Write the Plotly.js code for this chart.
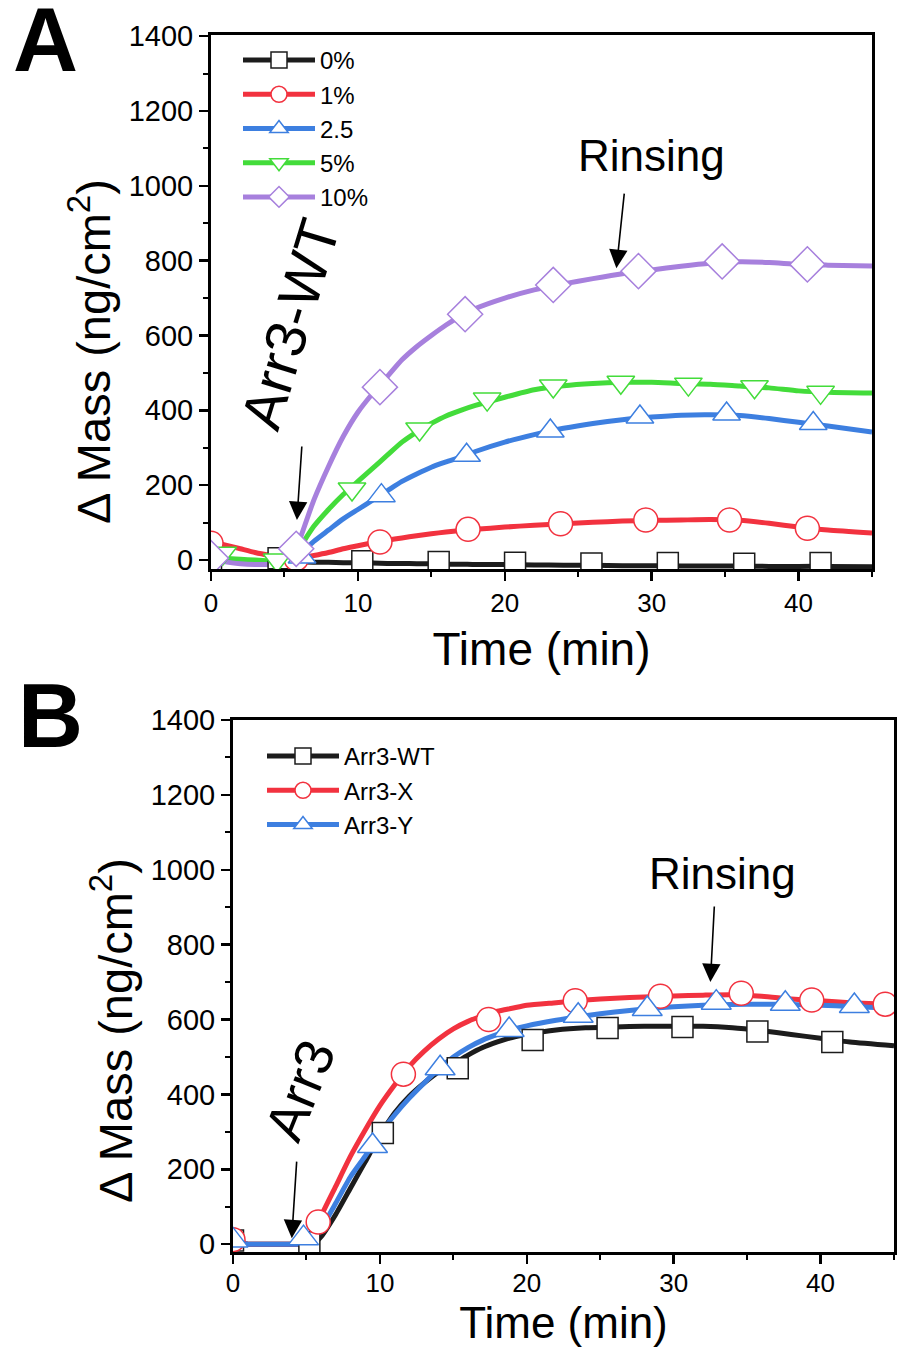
<!DOCTYPE html>
<html>
<head>
<meta charset="utf-8">
<script src="https://cdn.plot.ly/plotly-3.0.1.min.js"></script>
<style>
  html, body { margin: 0; padding: 0; background: #fff; }
  #graph { width: 900px; height: 1347px; }
</style>
</head>
<body>
<div id="graph"></div>
<script>
// ---- panel A: concentration series ----
const timeA = [0, 1, 2, 3, 4, 5, 5.5, 6, 7, 8, 9, 10, 11, 12, 13, 14, 15, 16, 17, 18, 20, 22, 24, 26, 28, 30, 32, 34, 36, 38, 40, 42, 45];
const a0   = [0, -1, -3, -4, -5, -5, -5, -5, -6, -6, -7, -8, -8, -9, -9, -10, -10, -11, -11, -12, -12, -13, -14, -14, -15, -15, -16, -16, -16, -17, -17, -17, -18];
const a1   = [50, 40, 30, 20, 12, 5, 2, 5, 12, 20, 30, 38, 46, 53, 59, 65, 70, 75, 79, 82, 88, 93, 97, 101, 104, 106, 107, 108, 106, 98, 88, 80, 72];
const a25  = [5, 0, -3, -4, -4, -3, 0, 15, 50, 80, 110, 135, 160, 185, 210, 230, 248, 262, 275, 290, 315, 335, 352, 365, 375, 382, 387, 388, 386, 378, 368, 358, 342];
const a5   = [10, 5, 2, 0, -2, -2, 0, 30, 90, 135, 175, 210, 245, 280, 315, 342, 365, 385, 400, 413, 435, 455, 466, 472, 475, 475, 472, 470, 465, 460, 452, 448, 446];
const a10  = [5, -5, -10, -12, -12, -10, 0, 50, 160, 250, 330, 395, 445, 490, 535, 570, 600, 628, 652, 672, 700, 722, 738, 752, 765, 775, 785, 793, 797, 795, 790, 788, 786];

// marker positions (panel A)
const mkA0t  = [0, 4.6, 10.3, 15.5, 20.7, 25.9, 31.1, 36.3, 41.5];
const mkA0v  = [0, 5, -3, -5, -7, -9, -8, -10, -8];
const mkA1t  = [0, 5.8, 11.5, 17.5, 23.8, 29.6, 35.3, 40.6];
const mkA1v  = [45, 3, 48, 82, 97, 107, 107, 85];
const mkA25t = [0, 6.2, 11.6, 17.4, 23.1, 29.2, 35.1, 41.0];
const mkA25v = [8, 8, 172, 280, 345, 382, 390, 365];
const mkA5t  = [0.8, 4.5, 9.6, 14.2, 18.8, 23.3, 27.9, 32.5, 37.0, 41.5];
const mkA5v  = [18, 0, 190, 350, 430, 465, 475, 470, 463, 448];
const mkA10t = [0, 5.8, 11.5, 17.3, 23.3, 29.1, 34.8, 40.6];
const mkA10v = [5, 30, 462, 657, 735, 772, 798, 790];

// ---- panel B: variants ----
const timeB = [0, 1, 2, 3, 4, 5, 5.5, 6, 7, 8, 9, 10, 11, 12, 13, 14, 15, 16, 17, 18, 19, 20, 22, 24, 26, 28, 30, 32, 34, 36, 38, 40, 42, 45];
const bWT = [15, 0, 0, 0, 0, 0, 2, 20, 80, 150, 220, 290, 350, 395, 430, 460, 482, 505, 525, 540, 552, 560, 572, 578, 580, 582, 582, 582, 578, 570, 560, 550, 540, 530];
const bX  = [15, 0, 0, 0, 0, 2, 25, 75, 155, 235, 305, 370, 425, 475, 515, 548, 575, 595, 610, 622, 630, 638, 645, 652, 657, 660, 663, 665, 666, 662, 655, 650, 645, 640];
const bY  = [15, 0, 0, 0, 0, 0, 10, 40, 110, 180, 235, 295, 345, 390, 430, 468, 500, 525, 545, 560, 573, 583, 598, 610, 620, 628, 634, 638, 640, 641, 640, 638, 635, 630];

const mkBWTt = [0, 5.2, 10.2, 15.3, 20.4, 25.5, 30.6, 35.7, 40.8];
const mkBWTv = [10, 5, 297, 470, 545, 577, 580, 568, 540];
const mkBXt  = [0, 5.8, 11.6, 17.4, 23.3, 29.1, 34.6, 39.4, 44.4];
const mkBXv  = [12, 59, 454, 600, 650, 662, 670, 652, 641];
const mkBYt  = [0, 4.8, 9.5, 14.1, 18.8, 23.5, 28.2, 32.9, 37.6, 42.3];
const mkBYv  = [10, 16, 262, 470, 572, 610, 628, 645, 642, 636];

const namesA = ['0%', '1%', '2.5', '5%', '10%'];
const namesB = ['Arr3-WT', 'Arr3-X', 'Arr3-Y'];

const FONT = 'Liberation Sans, Arial, sans-serif';
const colA = ['#1c1c1c', '#f2323f', '#3d7fe0', '#43dc3a', '#a780dd'];
const symA = ['square', 'circle', 'triangle-up', 'triangle-down', 'diamond'];
const colB = ['#1c1c1c', '#f2323f', '#3d7fe0'];
const symB = ['square', 'circle', 'triangle-up'];

const traces = [];
const linesA = [a0, a1, a25, a5, a10];
const mkA = [[mkA0t, mkA0v], [mkA1t, mkA1v], [mkA25t, mkA25v], [mkA5t, mkA5v], [mkA10t, mkA10v]];
const sizeA = [21, 24, 24, 24, 27];

linesA.forEach((ys, i) => {
    traces.push({ x: timeA, y: ys, mode: 'lines', line: { color: colA[i], width: 5, shape: 'spline', smoothing: 0.6 },
        showlegend: false, hoverinfo: 'skip', xaxis: 'x', yaxis: 'y' });
});
mkA.forEach((m, i) => {
    traces.push({ x: m[0], y: m[1], mode: 'markers',
        marker: { symbol: symA[i], size: sizeA[i], color: '#ffffff', line: { color: colA[i], width: 1.5 } },
        showlegend: false, xaxis: 'x', yaxis: 'y' });
});
namesA.forEach((n, i) => {
    traces.push({ x: [null], y: [null], name: n, mode: 'lines+markers', legend: 'legend',
        line: { color: colA[i], width: 5 },
        marker: { symbol: symA[i], size: 16, color: '#ffffff', line: { color: colA[i], width: 1.5 } },
        xaxis: 'x', yaxis: 'y' });
});

const linesB = [bWT, bX, bY];
const mkB = [[mkBWTt, mkBWTv], [mkBXt, mkBXv], [mkBYt, mkBYv]];
const sizeB = [21, 24, 26];
linesB.forEach((ys, i) => {
    traces.push({ x: timeB, y: ys, mode: 'lines', line: { color: colB[i], width: 5, shape: 'spline', smoothing: 0.6 },
        showlegend: false, hoverinfo: 'skip', xaxis: 'x2', yaxis: 'y2' });
});
mkB.forEach((m, i) => {
    traces.push({ x: m[0], y: m[1], mode: 'markers',
        marker: { symbol: symB[i], size: sizeB[i], color: '#ffffff', line: { color: colB[i], width: 1.5 } },
        showlegend: false, xaxis: 'x2', yaxis: 'y2' });
});
namesB.forEach((n, i) => {
    traces.push({ x: [null], y: [null], name: n, mode: 'lines+markers', legend: 'legend2',
        line: { color: colB[i], width: 5 },
        marker: { symbol: symB[i], size: 16, color: '#ffffff', line: { color: colB[i], width: 1.5 } },
        xaxis: 'x2', yaxis: 'y2' });
});

function xAxis(domain, anchor, standoff, labelShift, titleSize) {
    return {
        domain: domain, anchor: anchor, range: [0, 45],
        tickvals: [0, 10, 20, 30, 40], ticks: 'outside', ticklen: 9, tickwidth: 2.5, tickcolor: '#000',
        minor: { dtick: 5, tick0: 0, ticks: 'outside', ticklen: 5, tickwidth: 2, tickcolor: '#000', showgrid: false },
        showline: true, linewidth: 3, linecolor: '#000', mirror: true,
        showgrid: false, zeroline: false,
        tickfont: { family: FONT, size: 26, color: '#000' }, ticklabelstandoff: labelShift,
        title: { text: 'Time (min)', font: { family: FONT, size: titleSize, color: '#000' }, standoff: standoff }
    };
}
function yAxis(domain, anchor, range) {
    return {
        domain: domain, anchor: anchor, range: range,
        tickvals: [0, 200, 400, 600, 800, 1000, 1200, 1400], ticks: 'outside', ticklen: 9, tickwidth: 2.5, tickcolor: '#000',
        minor: { dtick: 100, tick0: 0, ticks: 'outside', ticklen: 5, tickwidth: 2, tickcolor: '#000', showgrid: false },
        showline: true, linewidth: 3, linecolor: '#000', mirror: true,
        showgrid: false, zeroline: false,
        tickfont: { family: FONT, size: 29, color: '#000' }, ticklabelstandoff: 0
    };
}

const arrow = { showarrow: true, arrowhead: 2, arrowsize: 2.3, arrowwidth: 1.6, arrowcolor: '#000', text: '', standoff: 0 };
const txt = (s, extra) => Object.assign({ text: s, showarrow: false, xanchor: 'center', yanchor: 'middle',
    font: { family: FONT, size: 44, color: '#000' } }, extra);

const layout = {
    width: 900, height: 1347,
    margin: { l: 0, r: 0, t: 0, b: 0 },
    paper_bgcolor: '#fff', plot_bgcolor: '#fff',
    font: { family: FONT, color: '#000' },
    xaxis: xAxis([211 / 900, 872 / 900], 'y', 16, 0, 46),
    yaxis: yAxis([1 - 569 / 1347, 1 - 35 / 1347], 'x', [-24, 1403]),
    xaxis2: xAxis([233 / 900, 894 / 900], 'y2', 10, -3, 44),
    yaxis2: yAxis([1 - 1252 / 1347, 1 - 720 / 1347], 'x2', [-21, 1400]),
    legend: { x: 238 / 900, y: 1 - 38 / 1347, xanchor: 'left', yanchor: 'top', bgcolor: 'rgba(0,0,0,0)',
        font: { family: FONT, size: 24, color: '#000' }, itemwidth: 72, tracegroupgap: 0 },
    legend2: { x: 262 / 900, y: 1 - 734 / 1347, xanchor: 'left', yanchor: 'top', bgcolor: 'rgba(0,0,0,0)',
        font: { family: FONT, size: 24, color: '#000' }, itemwidth: 72, tracegroupgap: 0 },
    annotations: [
        txt('<b>A</b>', { xref: 'paper', yref: 'paper', x: 45 / 900, y: 1 - 40 / 1347, font: { family: FONT, size: 90, color: '#000' } }),
        txt('<b>B</b>', { xref: 'paper', yref: 'paper', x: 50 / 900, y: 1 - 716 / 1347, font: { family: FONT, size: 90, color: '#000' } }),
        txt('Δ Mass (ng/cm<sup>2</sup>)', { xref: 'paper', yref: 'paper', x: 90 / 900, y: 1 - 352 / 1347, textangle: -90,
            font: { family: FONT, size: 47, color: '#000' } }),
        txt('Δ Mass (ng/cm<sup>2</sup>)', { xref: 'paper', yref: 'paper', x: 112 / 900, y: 1 - 1031 / 1347, textangle: -90,
            font: { family: FONT, size: 47, color: '#000' } }),
        txt('Rinsing', { xref: 'x', yref: 'y', x: 30.0, y: 1082 }),
        txt('Arr3-WT', { xref: 'x', yref: 'y', x: 5.4, y: 630, textangle: -73, font: { family: FONT, size: 57, color: '#000' } }),
        Object.assign({}, arrow, { xref: 'x', yref: 'y', x: 5.85, y: 107, ax: 5, ay: -75 }),
        Object.assign({}, arrow, { xref: 'x', yref: 'y', x: 27.6, y: 780, ax: 8, ay: -76 }),
        txt('Rinsing', { xref: 'x2', yref: 'y2', x: 33.3, y: 991 }),
        txt('Arr3', { xref: 'x2', yref: 'y2', x: 4.56, y: 411, textangle: -68, font: { family: FONT, size: 54, color: '#000' } }),
        Object.assign({}, arrow, { xref: 'x2', yref: 'y2', x: 32.5, y: 700, ax: 4, ay: -77 }),
        Object.assign({}, arrow, { xref: 'x2', yref: 'y2', x: 4.0, y: 16, ax: 5, ay: -78 })
    ]
};

Plotly.newPlot('graph', traces, layout, { staticPlot: true });
</script>
</body>
</html>
